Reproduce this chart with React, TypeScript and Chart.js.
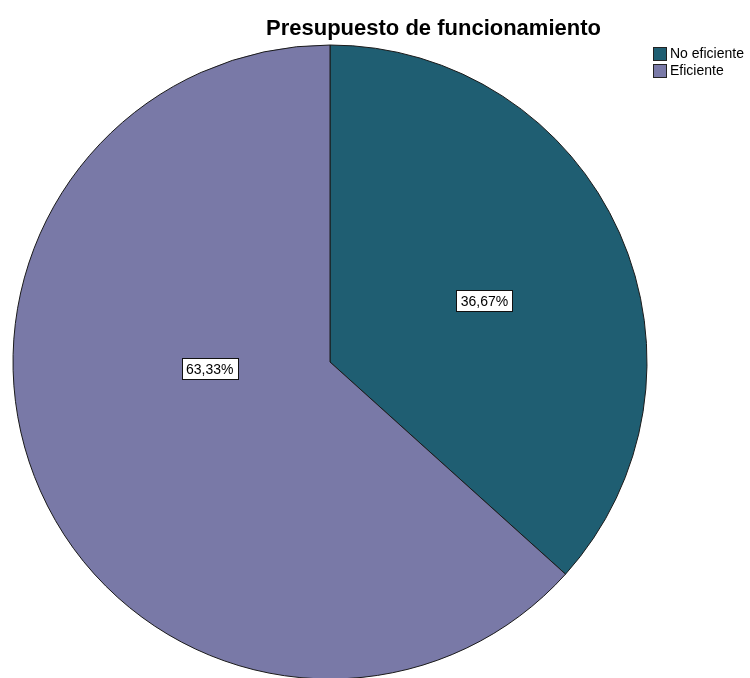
import React, { useEffect, useRef } from "react";
import { Chart, registerables } from "chart.js";

Chart.register(...registerables);

const TITLE = "Presupuesto de funcionamiento";
const categories = ["No eficiente", "Eficiente"];
const percentages = [36.67, 63.33];
const colors = ["#1F5E72", "#7979A7"];

// label placement relative to each arc: fraction of radius and angle shift (deg) from mid-angle
const labelPlacement = [
  { frac: 0.524, shift: 2.4 },
  { frac: 0.38, shift: 20.7 },
];

const FONT = "'Liberation Sans', Arial, sans-serif";

const fmt = (v: number) => v.toFixed(2).replace(".", ",") + "%";

const overlayPlugin = {
  id: "overlay",
  afterDraw(chart: any) {
    const ctx = chart.ctx as CanvasRenderingContext2D;
    ctx.save();
    // title
    ctx.font = `bold 22px ${FONT}`;
    ctx.fillStyle = "#000";
    ctx.textAlign = "center";
    ctx.textBaseline = "alphabetic";
    ctx.fillText(TITLE, 433.5, 35);

    // legend
    ctx.font = `14px ${FONT}`;
    ctx.textAlign = "left";
    ctx.textBaseline = "middle";
    categories.forEach((c, i) => {
      const y = 47 + i * 17;
      ctx.fillStyle = colors[i];
      ctx.fillRect(653, y, 14, 14);
      ctx.strokeStyle = "#222";
      ctx.lineWidth = 1;
      ctx.strokeRect(653.5, y + 0.5, 13, 13);
      ctx.fillStyle = "#000";
      ctx.fillText(c, 670, y + 7.5);
    });

    // slice labels
    const meta = chart.getDatasetMeta(0);
    ctx.font = `14px ${FONT}`;
    ctx.textAlign = "center";
    ctx.textBaseline = "middle";
    meta.data.forEach((arc: any, i: number) => {
      const p = arc.getProps(["x", "y", "startAngle", "endAngle", "outerRadius"], true);
      const mid = (p.startAngle + p.endAngle) / 2 + (labelPlacement[i].shift * Math.PI) / 180;
      const r = p.outerRadius * labelPlacement[i].frac;
      const cx = p.x + r * Math.cos(mid);
      const cy = p.y + r * Math.sin(mid);
      const text = fmt(percentages[i]);
      const w = Math.round(ctx.measureText(text).width + 9);
      const h = 21;
      const bx = Math.round(cx - w / 2) + 0.5;
      const by = Math.round(cy - h / 2) + 0.5;
      ctx.fillStyle = "#fff";
      ctx.fillRect(bx, by, w, h);
      ctx.strokeStyle = "#111";
      ctx.lineWidth = 1;
      ctx.strokeRect(bx, by, w, h);
      ctx.fillStyle = "#000";
      ctx.fillText(text, cx, cy + 1);
    });
    ctx.restore();
  },
};

export default function App() {
  const ref = useRef<HTMLCanvasElement | null>(null);
  useEffect(() => {
    if (!ref.current) return;
    const chart = new Chart(ref.current, {
      type: "pie",
      data: {
        labels: categories,
        datasets: [
          {
            data: percentages,
            backgroundColor: colors,
            borderColor: "#1a1a1a",
            borderWidth: 1,
          },
        ],
      },
      options: {
        responsive: false,
        devicePixelRatio: 1,
        animation: false,
        radius: 317,
        layout: { padding: { left: 10, right: 100, top: 44, bottom: 40 } },
        plugins: {
          legend: { display: false },
          title: { display: false },
          tooltip: { enabled: false },
        },
      } as any,
      plugins: [overlayPlugin],
    });
    return () => chart.destroy();
  }, []);
  return (
    <div
      style={{
        position: "absolute",
        left: 0,
        top: 0,
        width: 750,
        height: 678,
        overflow: "hidden",
        background: "#fff",
      }}
    >
      <canvas ref={ref} width={750} height={720} style={{ width: 750, height: 720, display: "block" }} />
    </div>
  );
}
